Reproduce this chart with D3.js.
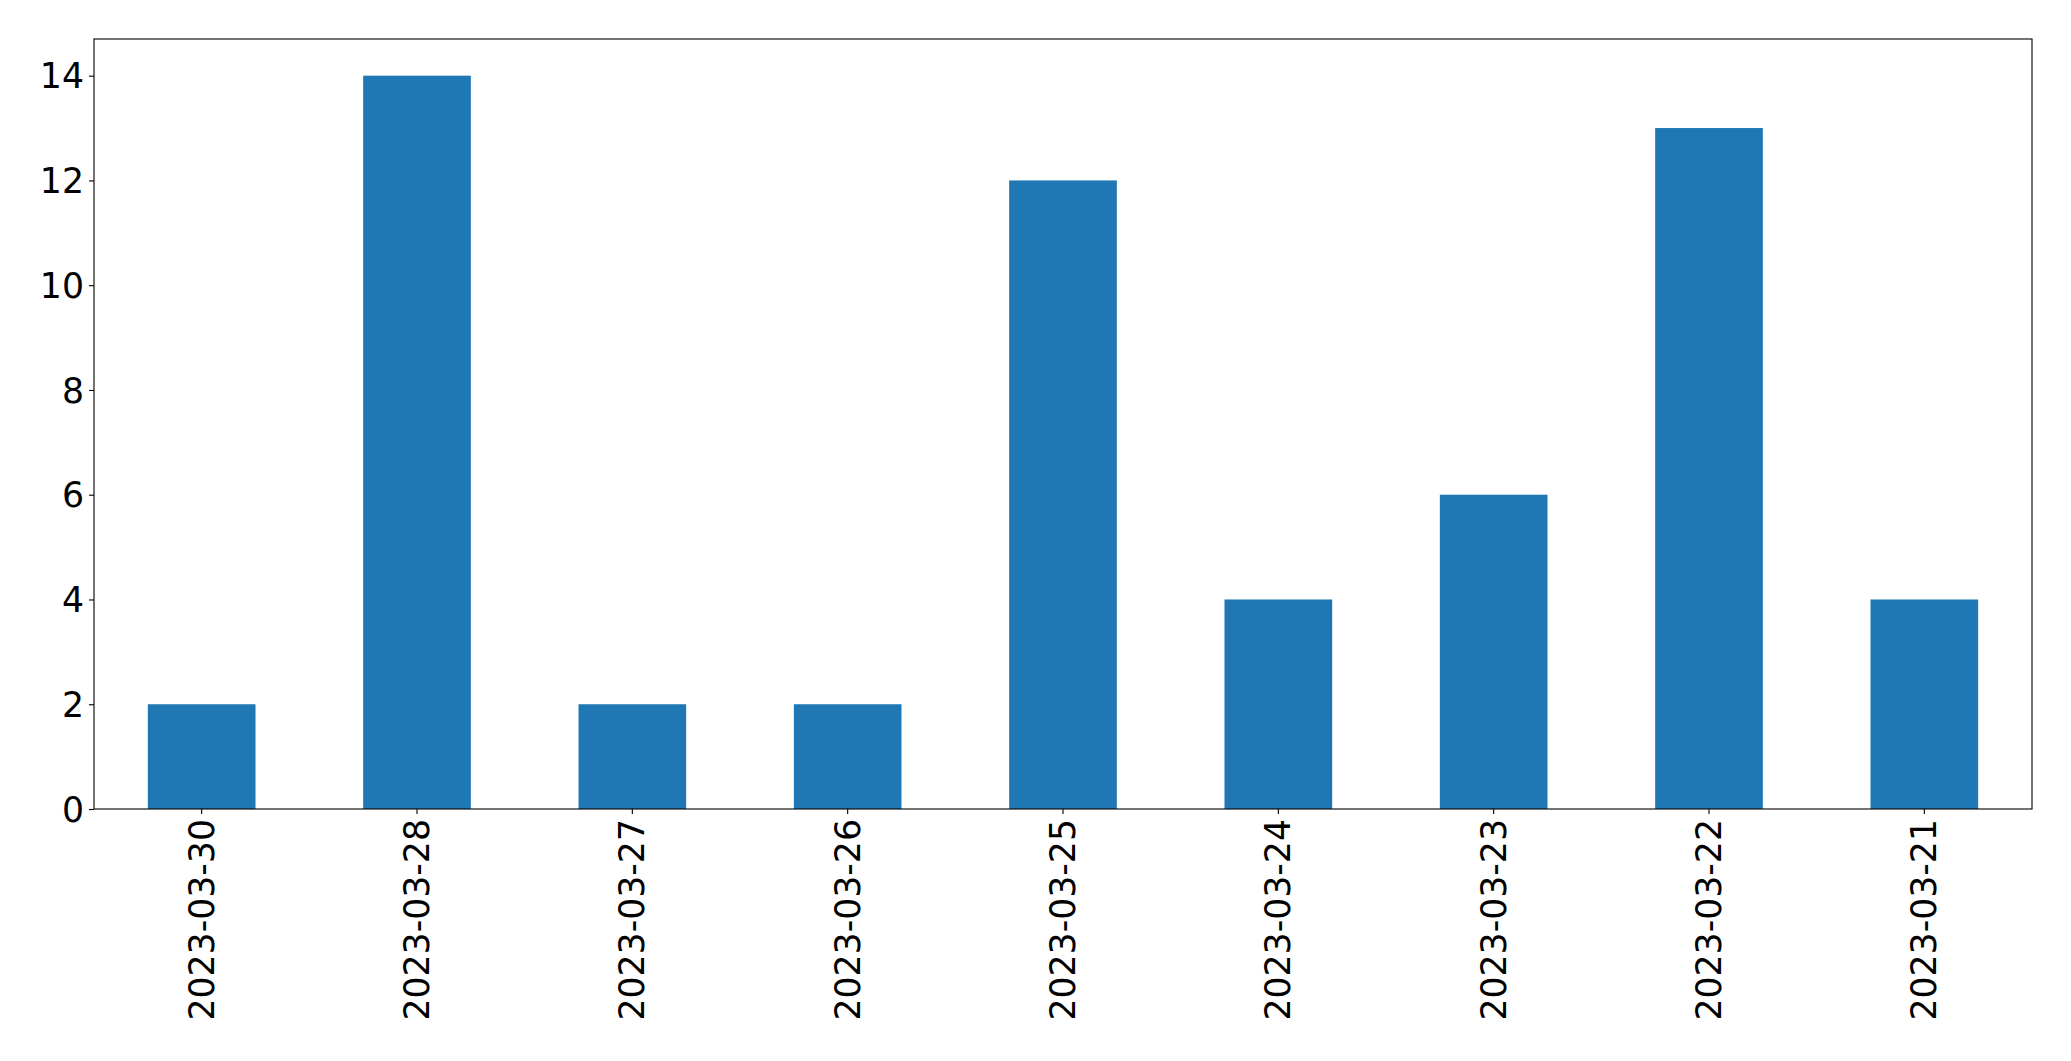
<!DOCTYPE html>
<html>
<head>
<meta charset="utf-8">
<script src="https://cdn.jsdelivr.net/npm/d3@7"></script>
<style>
  html, body { margin: 0; padding: 0; background: #fff; }
  svg { display: block; }
</style>
</head>
<body>
<script>
const categories = ["2023-03-30","2023-03-28","2023-03-27","2023-03-26","2023-03-25","2023-03-24","2023-03-23","2023-03-22","2023-03-21"];
const values = [2, 14, 2, 2, 12, 4, 6, 13, 4];
const yTicks = [0, 2, 4, 6, 8, 10, 12, 14];

const W = 2071, H = 1061;
const margin = { left: 94, right: W - 2032, top: 39, bottom: H - 809 };
const iw = W - margin.left - margin.right;
const ih = H - margin.top - margin.bottom;
const fontSize = 34.7;
const font = "'DejaVu Sans', sans-serif";

const svg = d3.select("body").append("svg").attr("width", W).attr("height", H);
const g = svg.append("g").attr("transform", `translate(${margin.left},${margin.top})`);

const x = d3.scaleBand().domain(categories).range([0, iw]).paddingInner(0.5).paddingOuter(0.25);
const y = d3.scaleLinear().domain([0, d3.max(values) * 1.05]).range([ih, 0]);

g.selectAll("rect.bar").data(values).join("rect")
  .attr("class", "bar")
  .attr("x", (d, i) => x(categories[i]))
  .attr("width", x.bandwidth())
  .attr("y", d => y(d))
  .attr("height", d => y(0) - y(d))
  .attr("fill", "#1f77b4");

const yAxis = g.append("g").call(d3.axisLeft(y).tickValues(yTicks).tickSize(5).tickPadding(5).tickFormat(d3.format("d")));
yAxis.select(".domain").remove();
yAxis.selectAll("text").style("font-family", font).style("font-size", fontSize + "px").attr("fill", "#000").attr("dy", "0.35em");
yAxis.selectAll("line").attr("stroke", "#000").attr("stroke-width", 1.1);

const xAxis = g.append("g").attr("transform", `translate(0,${ih})`).call(d3.axisBottom(x).tickSize(5).tickPadding(5));
xAxis.select(".domain").remove();
xAxis.selectAll("line").attr("stroke", "#000").attr("stroke-width", 1.1);
xAxis.selectAll("text")
  .style("font-family", font).style("font-size", fontSize + "px").attr("fill", "#000")
  .attr("transform", "rotate(-90)")
  .attr("text-anchor", "end")
  .attr("x", -10)
  .attr("y", 0)
  .attr("dy", "0.35em");

g.append("rect").attr("x", 0).attr("y", 0).attr("width", iw).attr("height", ih)
  .attr("fill", "none").attr("stroke", "#000").attr("stroke-width", 1.1);
</script>
</body>
</html>
